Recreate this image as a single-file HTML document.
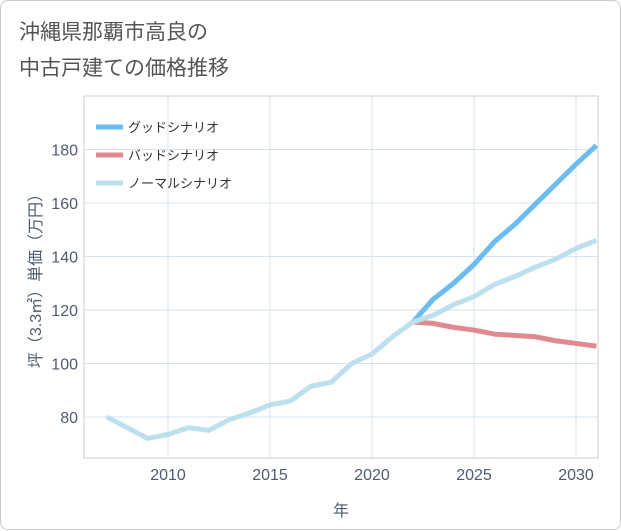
<!DOCTYPE html>
<html><head><meta charset="utf-8"><style>
body{margin:0;background:#fff;font-family:"Liberation Sans","Noto Sans CJK JP",sans-serif;}
#card{position:absolute;left:0;top:0;width:619px;height:528px;border:1px solid #ccc;border-radius:8px;background:#fff;}
#title{position:absolute;left:18px;top:14px;font-size:21px;line-height:36px;color:#555;}
</style></head><body>
<div id="card">
<div id="title">沖縄県那覇市高良の<br>中古戸建ての価格推移</div>
<svg id="chart" width="621" height="530" style="position:absolute;left:0;top:0"></svg>
</div>
<script>
const years=[2007,2008,2009,2010,2011,2012,2013,2014,2015,2016,2017,2018,2019,2020,2021,2022,2023,2024,2025,2026,2027,2028,2029,2030,2031];
const normalValues=[80,76,72,73.5,76,75,79,81.5,84.5,86,91.5,93,100,103.5,110,115.5,118,122,125,129.5,132.5,136,139,143,146];
const futureYears=[2022,2023,2024,2025,2026,2027,2028,2029,2030,2031];
const goodValues=[115.5,124,130,137,145.5,152,159.5,167,174.5,181.5];
const badValues=[115.5,115,113.5,112.5,111,110.5,110,108.5,107.5,106.5];
const xTicks=[2010,2015,2020,2025,2030];
const yTicks=[80,100,120,140,160,180];
const L=83,R=597,T=95,B=457;
const TC='#4f5b6e';
const x=v=>167+(v-2010)*20.4;
const y=v=>416-(v-80)*2.675;
const svg=document.getElementById('chart');
const NS='http://www.w3.org/2000/svg';
function mk(t,a){const e=document.createElementNS(NS,t);for(const k in a)e.setAttribute(k,a[k]);svg.appendChild(e);return e;}
const bg=mk('rect',{x:L,y:T,width:R-L,height:B-T,fill:'#fff',stroke:'#ccc'});


for(const t of xTicks){
 const g=mk('line',{x1:x(t),x2:x(t),y1:T,y2:B,stroke:'#d5e3ec'});
 
 
 const l=mk('text',{x:x(t),y:B+22,'text-anchor':'middle','font-size':16,fill:TC});l.textContent=t;
 
 
}
for(const t of yTicks){
 const g=mk('line',{x1:L,x2:R,y1:y(t),y2:y(t),stroke:'#d5e3ec'});
 
 
 const l=mk('text',{x:L-6,y:y(t)+6,'text-anchor':'end','font-size':16,fill:TC});l.textContent=t;
 
 
}
const xt=mk('text',{x:340,y:515,'text-anchor':'middle','font-size':16,fill:TC});xt.textContent='年';


const yt=mk('text',{x:0,y:0,'text-anchor':'middle','font-size':16,fill:TC,transform:'translate(40,276) rotate(-90)'});yt.textContent='坪（3.3㎡）単価（万円）';


function line(xs,vs,c,n){
 const p=mk('polyline',{points:xs.map((v,i)=>x(v)+','+y(vs[i])).join(' '),fill:'none',stroke:c,'stroke-width':5,'stroke-linejoin':'round'});
 
 
}
line(futureYears,badValues,'#e08a90','bad-scenario-line');
line(futureYears,goodValues,'#6bbcf0','good-scenario-line');
line(years,normalValues,'#bde0ee','normal-scenario-line');
const leg=[['グッドシナリオ','#6bbcf0'],['バッドシナリオ','#e08a90'],['ノーマルシナリオ','#bde0ee']];
leg.forEach((e,i)=>{
 const yy=126+i*28;
 const s=mk('line',{x1:95,x2:122,y1:yy,y2:yy,stroke:e[1],'stroke-width':5});
 
 
 const t=mk('text',{x:127,y:yy+5,'font-size':13,fill:'#333'});t.textContent=e[0];
 
 
});
</script>
</body></html>
